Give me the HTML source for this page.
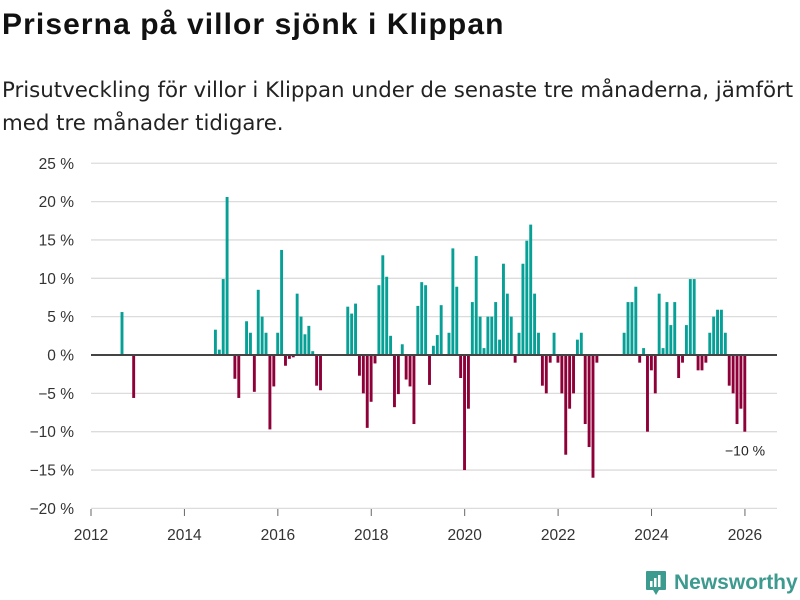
<!DOCTYPE html>
<html><head><meta charset="utf-8">
<style>
body{margin:0;background:#fff;font-family:"Liberation Sans","DejaVu Sans",sans-serif;}
#wrap{position:relative;width:800px;height:600px;overflow:hidden;}
h1{position:absolute;left:2px;top:8px;margin:0;font-size:30px;letter-spacing:1.1px;font-weight:bold;color:#111;white-space:nowrap;}
.sub{position:absolute;left:2px;top:74px;margin:0;font-family:"DejaVu Sans",sans-serif;font-size:21.3px;line-height:33px;color:#222;width:810px;white-space:nowrap;}
svg text{font-family:"Liberation Sans","DejaVu Sans",sans-serif;}
</style></head><body>
<div id="wrap">
<h1>Priserna på villor sjönk i Klippan</h1>
<p class="sub">Prisutveckling för villor i Klippan under de senaste tre månaderna, jämfört<br>med tre månader tidigare.</p>
<svg id="chart" width="800" height="600" style="position:absolute;left:0;top:0"></svg>
<div style="position:absolute;left:645px;top:570px;display:flex;align-items:center;gap:7px;">
<svg width="22" height="26"><path d="M2 1h18a1 1 0 0 1 1 1v17a1 1 0 0 1-1 1h-6l-3 5-3-5H2a1 1 0 0 1-1-1V2a1 1 0 0 1 1-1z" fill="#3d9a8f"/><rect x="5" y="11" width="2.5" height="6" fill="#fff"/><rect x="9" y="8" width="2.5" height="9" fill="#fff"/><rect x="13" y="5" width="2.5" height="12" fill="#fff"/></svg>
<span style="font-size:21px;font-weight:bold;color:#3d9a8f;">Newsworthy</span></div>
</div>
<script>
const monthIndex=[7,10,31,32,33,34,36,37,39,40,41,42,43,44,45,46,47,48,49,50,51,52,53,54,55,56,57,58,
65,66,67,68,69,70,71,72,73,74,75,76,77,78,79,80,81,82,83,84,85,86,87,88,89,91,92,93,94,95,96,97,98,99,100,101,102,103,104,105,106,107,108,109,110,111,112,113,114,115,116,117,118,119,120,121,122,123,124,125,126,127,128,129,
136,137,138,139,140,141,142,143,144,145,146,147,148,149,150,151,152,153,154,155,156,157,158,159,160,161,162,163,164,165,166,167];
const values=[5.6,-5.6,3.3,0.7,9.9,20.6,-3.1,-5.6,4.4,2.9,-4.8,8.5,5,2.9,-9.7,-4.1,2.9,13.7,-1.4,-0.5,-0.3,8,5,2.7,3.8,0.5,-4,-4.6,
6.3,5.4,6.7,-2.7,-5,-9.5,-6.1,-1.1,9.1,13,10.2,2.5,-6.8,-5.1,1.4,-3.2,-4.1,-9,6.4,9.5,9.1,-3.9,1.2,2.6,6.5,2.9,13.9,8.9,-3,-15,-7,6.9,12.9,5,0.9,5,5,6.9,2,11.9,8,5,-1,2.9,11.9,14.9,17,8,2.9,-4,-5,-1,2.9,-1,-5,-13,-7,-5,2,2.9,-9,-12,-16,-1,
2.9,6.9,6.9,8.9,-1,0.9,-10,-2,-5,8,0.9,6.9,3.9,6.9,-3,-1,3.9,9.9,9.9,-2,-2,-1,2.9,5,5.9,5.9,2.9,-4,-5,-9,-7,-10];
const yTicks=[25,20,15,10,5,0,-5,-10,-15,-20];
const xTicks=[2012,2014,2016,2018,2020,2022,2024,2026];
const lastLabel="−10 %";
const NS="http://www.w3.org/2000/svg";
const svg=document.getElementById('chart');
const y=v=>355-(v*7.67);
const x=yr=>91+(yr-2012)*46.71;
function mk(t,a){const e=document.createElementNS(NS,t);for(const k in a)e.setAttribute(k,a[k]);svg.appendChild(e);return e;}
yTicks.forEach(t=>{
  if(t!==0){const g=mk('line',{x1:91,x2:777,y1:y(t),y2:y(t),stroke:'#dcdcdc','stroke-width':1.3});
  
  }
  const l=mk('text',{x:74,y:y(t)+5.5,'text-anchor':'end','font-size':15.5,fill:'#333'});
  l.textContent=(t<0?'−'+(-t):t)+' %';
  
  
});
monthIndex.forEach((m,i)=>{
  const v=values[i];
  const r=mk('rect',{x:x(2012+m/12)+2.3,width:2.9,y:Math.min(y(v),y(0)),height:Math.abs(y(v)-y(0)),fill:v>=0?'#07a096':'#8e0038'});
  
  
});
const z=mk('line',{x1:91,x2:777,y1:y(0),y2:y(0),stroke:'#444','stroke-width':2});


xTicks.forEach(t=>{
  const k=mk('line',{x1:x(t),x2:x(t),y1:509,y2:516,stroke:'#666','stroke-width':1});
  
  
  const l=mk('text',{x:x(t),y:540,'text-anchor':'middle','font-size':15.5,fill:'#333'});
  l.textContent=t;
  
  
});
const lv=values[values.length-1], lm=monthIndex[monthIndex.length-1];
const ll=mk('text',{x:x(2012+lm/12)+4,y:y(lv)+24,'text-anchor':'middle','font-size':14,fill:'#222'});
ll.textContent=lastLabel;


</script>
</body></html>
